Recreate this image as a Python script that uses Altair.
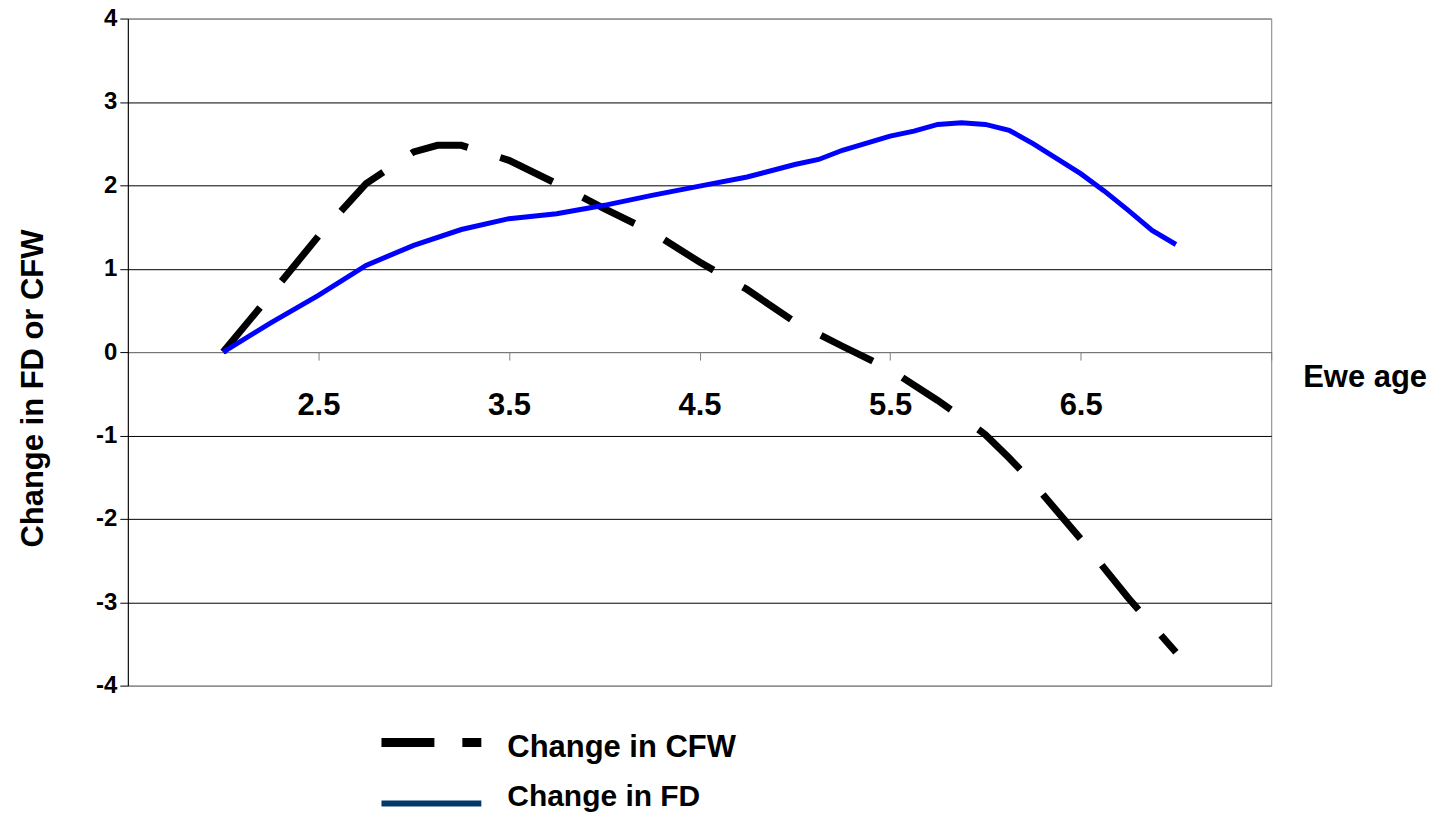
import altair as alt
import pandas as pd

FONT = "Liberation Sans, Arial, sans-serif"

# Ewe age (x) and change values
cfw_age = [2.0, 2.25, 2.5, 2.75, 3.0, 3.125, 3.25, 3.5, 3.75, 4.0, 4.25, 4.5,
           4.75, 5.0, 5.25, 5.5, 5.75, 5.875, 6.0, 6.125, 6.25, 6.5, 6.75, 7.0]
cfw_change = [0.0, 0.69, 1.39, 2.02, 2.40, 2.48, 2.48, 2.30, 2.02, 1.72, 1.44, 1.08,
              0.75, 0.36, 0.07, -0.21, -0.58, -0.78, -0.99, -1.27, -1.57, -2.24, -2.95, -3.60]

fd_age = [2.0, 2.25, 2.5, 2.75, 3.0, 3.25, 3.5, 3.75, 4.0, 4.25, 4.5, 4.75, 5.0,
          5.125, 5.25, 5.5, 5.625, 5.75, 5.875, 6.0, 6.125, 6.25, 6.375, 6.5,
          6.625, 6.75, 6.875, 7.0]
fd_change = [0.0, 0.35, 0.68, 1.04, 1.28, 1.47, 1.60, 1.66, 1.76, 1.88, 1.99, 2.10, 2.25,
             2.31, 2.42, 2.59, 2.65, 2.73, 2.75, 2.73, 2.66, 2.50, 2.32, 2.14,
             1.93, 1.70, 1.46, 1.29]

x_ticks = [2.5, 3.5, 4.5, 5.5, 6.5, 7.5]
y_ticks = [-4, -3, -2, -1, 0, 1, 2, 3, 4]
series_names = ["Change in CFW", "Change in FD"]
x_title = "Ewe age"
y_title = "Change in FD or CFW"

cfw_df = pd.DataFrame({"age": cfw_age, "value": cfw_change, "series": series_names[0]})
fd_df = pd.DataFrame({"age": fd_age, "value": fd_change, "series": series_names[1]})

W, H = 1145, 668

x_enc = alt.X(
    "age:Q",
    scale=alt.Scale(domain=[1.5, 7.5], nice=False, zero=False),
    axis=alt.Axis(
        values=x_ticks, format=".1f",
        labelExpr="datum.value == 7.5 ? '' : datum.label",
        offset=-334, domainColor="#808080", tickColor="#808080",
        tickSize=8, labelFontSize=31, labelFontWeight="bold", labelFont=FONT,
        labelColor="black", labelPadding=31, grid=False, title=None,
    ),
)
y_enc = alt.Y(
    "value:Q",
    scale=alt.Scale(domain=[-4, 4], nice=False, zero=False),
    axis=alt.Axis(
        values=y_ticks, labelExpr="toString(datum.value)", tickSize=8, labelPadding=3,
        labelFontSize=24, labelFontWeight="bold", labelFont=FONT, labelColor="black",
        domainColor="black", tickColor="black",
        gridColor={"condition": {"test": "abs(datum.value) == 4", "value": "#808080"},
                   "value": "#000000"},
        title=y_title, titleFont=FONT, titleFontSize=31, titleFontWeight="bold",
        titleColor="black", titleAngle=270, titleBaseline="bottom",
        titleX=-78, titleY=370, titleAlign="center",
    ),
)

cfw_line = alt.Chart(cfw_df).mark_line(
    color="black", strokeWidth=7, strokeDash=[58, 34], strokeCap="butt"
).encode(x=x_enc, y=y_enc)

fd_line = alt.Chart(fd_df).mark_line(
    color="#0000FF", strokeWidth=5
).encode(x=x_enc, y=y_enc)

leg_cfw_df = pd.DataFrame({"label": [series_names[0]]})
leg_fd_df = pd.DataFrame({"label": [series_names[1]]})
xt_df = pd.DataFrame({"label": [x_title]})

leg_cfw_sym = alt.Chart(leg_cfw_df).mark_rule(
    color="black", strokeWidth=9, strokeDash=[53, 28], strokeCap="butt"
).encode(x=alt.value(254), x2=alt.value(354), y=alt.value(725))
leg_fd_sym = alt.Chart(leg_fd_df).mark_rule(
    color="#003A6B", strokeWidth=6, strokeCap="butt"
).encode(x=alt.value(254), x2=alt.value(354), y=alt.value(786))

leg_cfw_txt = alt.Chart(leg_cfw_df).mark_text(
    align="left", baseline="alphabetic", font=FONT, fontSize=31, fontWeight="bold", color="black"
).encode(x=alt.value(380), y=alt.value(739), text="label:N")
leg_fd_txt = alt.Chart(leg_fd_df).mark_text(
    align="left", baseline="alphabetic", font=FONT, fontSize=30, fontWeight="bold", color="black"
).encode(x=alt.value(380), y=alt.value(789), text="label:N")

x_title_txt = alt.Chart(xt_df).mark_text(
    align="center", baseline="alphabetic", font=FONT, fontSize=31, fontWeight="bold", color="black"
).encode(x=alt.value(1239), y=alt.value(369), text="label:N")

chart = alt.layer(
    cfw_line, fd_line, leg_cfw_sym, leg_fd_sym, leg_cfw_txt, leg_fd_txt, x_title_txt
).properties(
    width=W, height=H,
    autosize=alt.AutoSizeParams(type="none"),
    padding={"left": 120, "top": 10, "right": 160, "bottom": 126},
    background="white",
).configure_view(
    stroke="#808080", strokeWidth=1
)

chart.save("out.html", embed_options={"renderer": "svg", "actions": False})
